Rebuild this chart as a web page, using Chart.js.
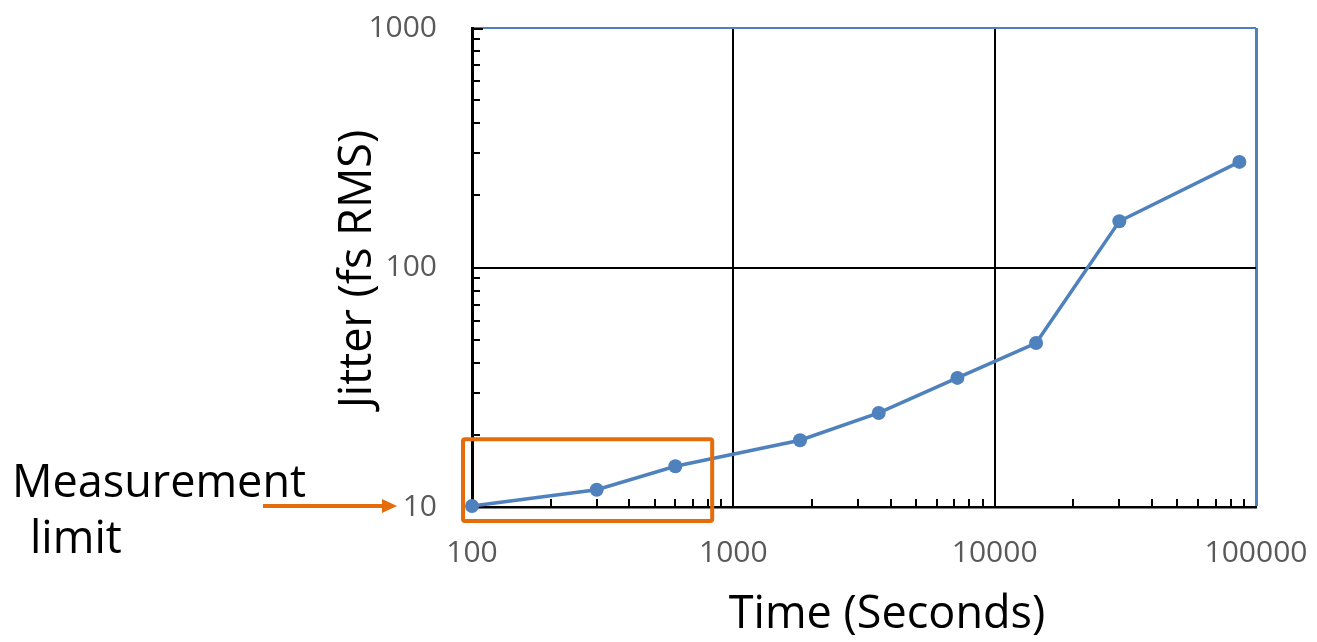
<!DOCTYPE html>
<html>
<head>
<meta charset="utf-8">
<script src="https://cdn.jsdelivr.net/npm/chart.js@4.4.0/dist/chart.umd.min.js"></script>
<style>
html, body { margin: 0; padding: 0; background: #fff; }
</style>
</head>
<body>
<canvas id="chart" width="1317" height="642"></canvas>
<script>
// ----------------------
// DATA
// ----------------------
const timeSeconds = [100, 300, 600, 1800, 3600, 7200, 14400, 30000, 86400];
const jitterFs = [10.1, 11.8, 14.8, 19, 24.7, 34.6, 48.4, 156, 276];
const xTickValues = [100, 1000, 10000, 100000];
const yTickValues = [10, 100, 1000];

const xTitle = "Time (Seconds)";
const yTitle = "Jitter (fs RMS)";
const noteLines = ["Measurement", "limit"];
// orange box around the low end, in data units
const boxX = [100, 830];
const boxY = [10, 19.2];

const FONT = "'Open Sans', 'Noto Sans', sans-serif";
const BLUE = "#4F81BD";
const ORANGE = "#E46C0A";
const GREY = "#595959";

// minor tick values (2..9 per decade) between min and max
function minorValues(min, max) {
    const out = [];
    for (let d = Math.pow(10, Math.floor(Math.log10(min))); d < max; d *= 10) {
        for (let k = 2; k <= 9; k++) {
            const v = d * k;
            if (v > min && v < max) out.push(v);
        }
    }
    return out;
}

function stroke(ctx, x1, y1, x2, y2) {
    ctx.beginPath();
    ctx.moveTo(x1, y1);
    ctx.lineTo(x2, y2);
    ctx.stroke();
}

// ----------------------
// EXTRA DRAWING: minor ticks, box, arrow, titles
// ----------------------
const overlay = {
    id: "overlay",
    beforeDatasetsDraw(chart) {
        const { ctx, scales: { x, y } } = chart;
        ctx.save();
        ctx.strokeStyle = "#000";
        ctx.lineWidth = 2;
        minorValues(x.min, x.max).forEach(v => {
            const px = Math.round(x.getPixelForValue(v));
            stroke(ctx, px, y.bottom, px, y.bottom - 8);
        });
        minorValues(y.min, y.max).forEach(v => {
            const py = Math.round(y.getPixelForValue(v));
            stroke(ctx, x.left, py, x.left + 8, py);
        });
        // major tick at top
        stroke(ctx, x.left, y.top + 1, x.left + 11, y.top + 1);
        ctx.restore();
    },
    afterDatasetsDraw(chart) {
        const { ctx, scales: { x, y } } = chart;
        ctx.save();

        // orange box
        const bl = x.getPixelForValue(boxX[0]) - 9;
        const br = x.getPixelForValue(boxX[1]);
        const bt = y.getPixelForValue(boxY[1]);
        const bb = y.getPixelForValue(boxY[0]) + 14;
        ctx.strokeStyle = ORANGE;
        ctx.lineWidth = 4;
        ctx.beginPath();
        ctx.roundRect(bl, bt, br - bl, bb - bt, 2);
        ctx.stroke();

        // arrow to the "10" label
        const ay = y.getPixelForValue(10) - 1;
        const tip = x.left - 75;
        ctx.lineWidth = 4;
        stroke(ctx, x.left - 209, ay, tip - 12, ay);
        ctx.fillStyle = ORANGE;
        ctx.beginPath();
        ctx.moveTo(tip, ay);
        ctx.lineTo(tip - 15, ay - 7);
        ctx.lineTo(tip - 15, ay + 7);
        ctx.closePath();
        ctx.fill();

        // texts
        ctx.fillStyle = "#000";
        ctx.font = "45px " + FONT;
        ctx.textAlign = "left";
        ctx.textBaseline = "alphabetic";
        ctx.fillText(noteLines[0], 12, 497);
        ctx.fillText(noteLines[1], 30, 553);

        ctx.textAlign = "center";
        ctx.fillText(xTitle, 887, 628);

        ctx.translate(371, 269);
        ctx.rotate(-Math.PI / 2);
        ctx.fillText(yTitle, 0, 0);
        ctx.restore();
    }
};

// ----------------------
// CHART
// ----------------------
const ctx = document.getElementById("chart").getContext("2d");

new Chart(ctx, {
    type: "line",
    data: {
        datasets: [{
            data: timeSeconds.map((t, i) => ({ x: t, y: jitterFs[i] })),
            borderColor: BLUE,
            backgroundColor: BLUE,
            borderWidth: 3.5,
            pointRadius: 7,
            pointHoverRadius: 7,
            pointBorderWidth: 0,
            tension: 0,
            clip: false
        }]
    },
    options: {
        responsive: false,
        animation: false,
        devicePixelRatio: 1,
        layout: { padding: { top: 28, right: 61, left: 0, bottom: 0 } },
        plugins: { legend: { display: false }, tooltip: { enabled: false } },
        scales: {
            x: {
                type: "logarithmic",
                min: 100,
                max: 100000,
                afterBuildTicks: s => { s.ticks = xTickValues.map(v => ({ value: v })); },
                afterFit: s => {
                    s.height = 135;
                    s.paddingLeft = 0;
                    s.paddingRight = 0;
                },
                ticks: {
                    autoSkip: false,
                    maxRotation: 0,
                    padding: 28,
                    color: GREY,
                    font: { family: FONT, size: 30 },
                    callback: v => String(v)
                },
                border: { display: true, color: "#000", width: 2.5 },
                grid: {
                    drawTicks: false,
                    color: c => c.index === 0 ? "rgba(0,0,0,0)" : (c.index === xTickValues.length - 1 ? BLUE : "#000"),
                    lineWidth: c => c.index === xTickValues.length - 1 ? 3 : 2
                }
            },
            y: {
                type: "logarithmic",
                min: 10,
                max: 1000,
                afterBuildTicks: s => { s.ticks = yTickValues.map(v => ({ value: v })); },
                afterFit: s => {
                    s.width = 472;
                    s.paddingTop = 0;
                    s.paddingBottom = 0;
                },
                ticks: {
                    autoSkip: false,
                    padding: 35,
                    color: GREY,
                    font: { family: FONT, size: 30 },
                    callback: v => String(v)
                },
                border: { display: true, color: "#000", width: 3 },
                grid: {
                    drawTicks: false,
                    color: c => c.index === 0 ? "rgba(0,0,0,0)" : (c.index === yTickValues.length - 1 ? BLUE : "#000"),
                    lineWidth: 2
                }
            }
        }
    },
    plugins: [overlay]
});
</script>
</body>
</html>
